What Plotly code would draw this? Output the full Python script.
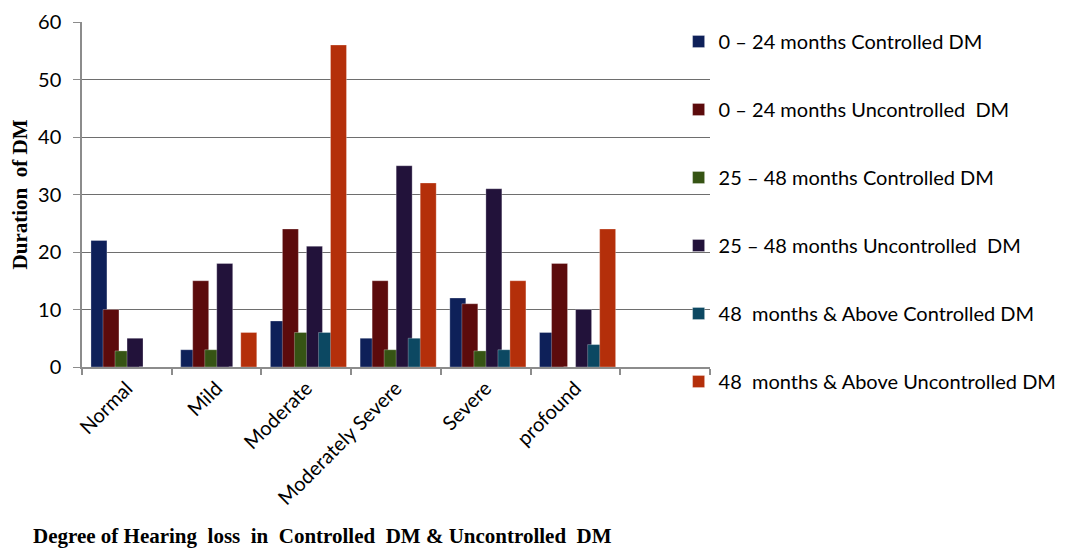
import plotly.graph_objects as go
import numpy as np

categories = ["Normal", "Mild", "Moderate", "Moderately Severe", "Severe", "profound"]
series_names = [
    "0 \u2013 24 months Controlled DM",
    "0 \u2013 24 months Uncontrolled  DM",
    "25 \u2013 48 months Controlled DM",
    "25 \u2013 48 months Uncontrolled  DM",
    "48  months & Above Controlled DM",
    "48  months & Above Uncontrolled DM",
]
s_0_24_ctrl = [22, 3, 8, 5, 12, 6]
s_0_24_unctrl = [10, 15, 24, 15, 11, 18]
s_25_48_ctrl = [2.8, 3, 6, 3, 2.8, 0]
s_25_48_unctrl = [5, 18, 21, 35, 31, 10]
s_48_ctrl = [0, 0, 6, 5, 3, 3.9]
s_48_unctrl = [0, 6, 56, 32, 15, 24]
colors = ["#0e2059", "#5c0b0c", "#365414", "#22123a", "#0c4862", "#b42f0a"]

all_series = [s_0_24_ctrl, s_0_24_unctrl, s_25_48_ctrl, s_25_48_unctrl, s_48_ctrl, s_48_unctrl]
x = np.arange(len(categories))

bar_w = 0.178
step = 0.134
first = -0.40

fig = go.Figure()
for i, (name, vals, col) in enumerate(zip(series_names, all_series, colors)):
    fig.add_trace(go.Bar(
        x=x, y=vals, name=name,
        marker=dict(color=col, line=dict(width=0.8, color="rgba(255,255,255,0.35)")),
        width=bar_w, offset=first + i * step,
        legendgroup=f"g{i}",
    ))

# page body has an 8px margin: figure is 1064x542 so that it fills the 1072x550 window
fig.update_layout(
    width=1064, height=542,
    margin=dict(l=74, r=362, t=14, b=183, autoexpand=False),
    plot_bgcolor="white", paper_bgcolor="white",
    barmode="overlay",
    showlegend=True,
    legend=dict(
        x=0.95, xanchor="left", y=1.0, yanchor="top",
        font=dict(family="Lato", size=20, color="black"),
        traceorder="grouped", tracegroupgap=39,
        itemwidth=30, bgcolor="rgba(0,0,0,0)",
        maxheight=540,
    ),
    font=dict(family="Lato", color="black"),
)
fig.update_xaxes(
    range=[-0.5, len(categories) + 0.5],
    tickmode="array", tickvals=x, ticktext=categories,
    tickangle=-45, tickfont=dict(family="Lato", size=20, color="black"),
    ticks="", showgrid=False, automargin=False,
    showline=True, linecolor="#8c8c8c", linewidth=1.5,
    minor=dict(tickmode="linear", tick0=-0.5, dtick=1, ticks="outside", ticklen=6,
               tickcolor="#8c8c8c", tickwidth=1.5, showgrid=False),
    zeroline=False,
)
fig.update_yaxes(
    range=[0, 60], dtick=10,
    tickfont=dict(family="Lato", size=20, color="black"),
    ticks="outside", ticklen=7, tickcolor="#8c8c8c", ticklabelstandoff=8,
    showgrid=True, gridcolor="#6e6e6e", gridwidth=1, automargin=False,
    showline=True, linecolor="#8c8c8c", linewidth=1.5,
    zeroline=False,
    title=dict(text="<b>Duration  of DM</b>", font=dict(family="Liberation Serif", size=21, color="black"),
               standoff=6),
)
fig.add_annotation(
    text="<b>Degree of Hearing  loss  in  Controlled  DM & Uncontrolled  DM</b>",
    xref="paper", yref="paper", x=-0.081, y=-0.49, xanchor="left", yanchor="middle",
    showarrow=False, font=dict(family="Liberation Serif", size=21, color="black"),
)

fig.write_html("out.html")
